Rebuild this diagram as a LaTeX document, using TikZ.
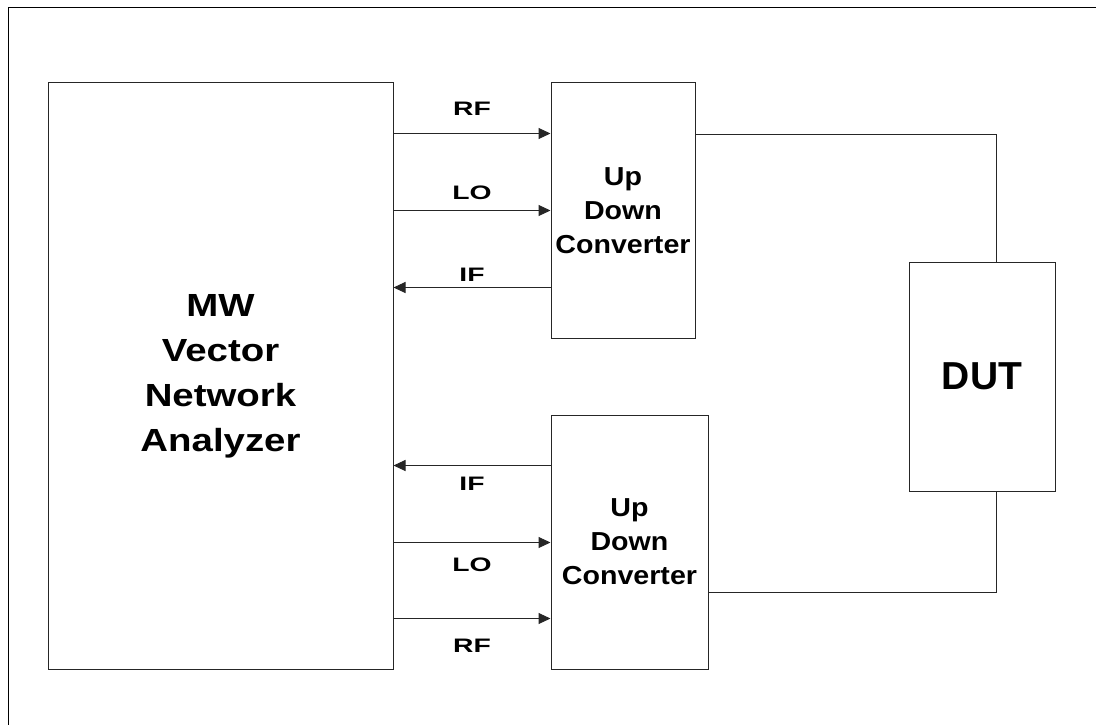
\documentclass[tikz,border=0pt]{standalone}
\usepackage{fontspec}
\setmainfont{Liberation Sans}
\newfontfamily\vnafont{Liberation Sans}[FakeStretch=1.2]
\newfontfamily\convfont{Liberation Sans}[FakeStretch=1.1]
\newfontfamily\lblfont{Liberation Sans}[FakeStretch=1.45]
\usetikzlibrary{arrows.meta, positioning, calc}

\begin{document}
\begin{tikzpicture}[
      x=1pt, y=-1pt,
      block/.style={rectangle, draw=black!85, line width=1pt, inner sep=0pt, align=center},
      conv/.style={block, font=\convfont\bfseries\fontsize{26}{34}\selectfont},
      sig/.style={-{Triangle[length=12pt, width=11pt]}, line width=1pt, draw=black!85},
      wire/.style={line width=1pt, draw=black!85},
      lbl/.style={font=\lblfont\bfseries\fontsize{19.5}{22}\selectfont, inner sep=0pt}
    ]
    \useasboundingbox (0,0) rectangle (1096,725);
    \clip (0,0) rectangle (1096,725);
    \draw[line width=1.6pt] (8.5,7.5) rectangle (1120,750);

    \node[block, minimum width=345pt, minimum height=586pt, font=\vnafont\bfseries\fontsize{32}{45}\selectfont] (vna) at (220.5,376) {MW\\Vector\\Network\\Analyzer};
    \node[conv, minimum width=144pt, minimum height=255pt] (upconv) at (623,210.5) {Up\\Down\\Converter};
    \node[conv, minimum width=157pt, minimum height=254pt] (loconv) at (629.5,542) {Up\\Down\\Converter};
    \node[block, minimum width=146pt, minimum height=229pt, font=\bfseries\fontsize{39}{44}\selectfont] (dut) at (982,376.5) {DUT};

    % ports on the converters
    \coordinate (a1) at ($(upconv.north west)+(0,51)$);
    \coordinate (a2) at ($(upconv.north west)+(0,128)$);
    \coordinate (a3) at ($(upconv.north west)+(0,205)$);
    \coordinate (b1) at ($(loconv.north west)+(0,51)$);
    \coordinate (b2) at ($(loconv.north west)+(0,128)$);
    \coordinate (b3) at ($(loconv.north west)+(0,204)$);

    \draw[sig] (vna.east |- a1) -- node[lbl, yshift=24.5pt] {RF} (a1);
    \draw[sig] (vna.east |- a2) -- node[lbl, yshift=17.5pt] {LO} (a2);
    \draw[sig] (a3) -- node[lbl, yshift=13pt] {IF} (vna.east |- a3);

    \draw[sig] (b1) -- node[lbl, yshift=-18pt] {IF} (vna.east |- b1);
    \draw[sig] (vna.east |- b2) -- node[lbl, yshift=-22.5pt] {LO} (b2);
    \draw[sig] (vna.east |- b3) -- node[lbl, yshift=-27pt] {RF} (b3);

    % converters to DUT
    \draw[wire] ($(upconv.north east)+(0,52)$) -| ([xshift=14pt]dut.north);
    \draw[wire] ($(loconv.north east)+(0,178)$) -| ([xshift=14pt]dut.south);
  \end{tikzpicture}
\end{document}
